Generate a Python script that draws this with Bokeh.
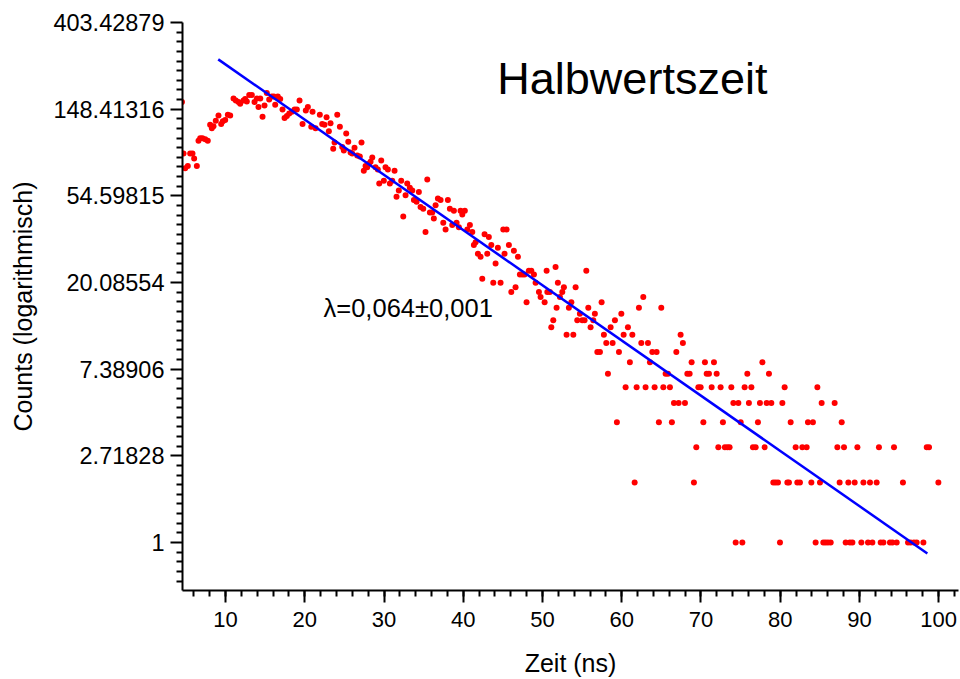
import math
from bokeh.plotting import figure
from bokeh.models import (FixedTicker, SingleIntervalTicker, CustomJSTickFormatter,
                          Label, Range1d)
from bokeh.embed import file_html
from bokeh.resources import INLINE

# ---- data ----
t_ns = [
    4.50, 4.70, 4.91, 5.24, 5.54, 5.83, 6.04, 6.38, 6.59, 6.80, 7.09, 7.43, 7.76, 8.06, 8.27,
    8.48, 8.77, 9.11, 9.45, 9.66, 9.96, 10.29, 10.59, 11.01, 11.30, 11.64, 11.85, 12.27, 12.48,
    12.69, 12.99, 13.32, 13.66, 13.95, 14.16, 14.38, 14.67, 14.92, 15.21, 15.51, 15.84, 16.10,
    16.27, 16.60, 16.90, 17.19, 17.45, 17.74, 18.04, 18.37, 18.71, 19.00, 19.34, 19.72, 20.13,
    20.39, 20.82, 20.98,
    21.36, 21.90, 22.20, 22.49, 22.75, 23.04, 23.25, 23.59, 23.76, 24.10, 24.43, 24.73, 24.93,
    25.23, 25.49, 25.78, 25.99, 26.28, 26.62, 26.95, 27.16, 27.45, 27.67, 27.88, 28.09, 28.30,
    28.52, 28.93, 29.22, 29.40, 29.65, 29.98, 30.19, 30.49, 30.74, 31.04, 31.33, 31.58, 31.87,
    32.17, 32.43, 32.72, 32.93, 33.26, 33.57, 33.77, 34.11, 34.40, 34.61, 34.95, 35.24, 35.46,
    35.79, 36.09, 36.29, 36.51,
    36.80, 37.14, 37.48, 37.77, 38.06, 38.31, 38.61, 38.82, 39.16, 39.45, 39.66, 39.88, 40.20,
    40.51, 40.84, 41.14, 41.34, 41.56, 41.85, 42.19, 42.40, 42.69, 43.03, 43.23, 43.54, 43.79,
    44.08, 44.37, 44.71, 45.05, 45.21, 45.47, 45.76, 46.06, 46.39, 46.60, 46.90, 47.15, 47.45,
    47.74, 47.99, 48.28, 48.59, 48.92, 49.13, 49.55, 49.76, 50.27, 50.52, 50.61, 50.93, 51.11,
    51.36, 51.65, 51.78, 51.94, 52.20,
    52.50, 52.70, 53.04, 53.33, 53.64, 53.89, 54.18, 54.39, 54.72, 55.02, 55.31, 55.53, 55.78,
    56.07, 56.41, 56.61, 56.92, 57.25, 57.46, 57.75, 58.05, 58.26, 58.60, 58.85, 59.14, 59.39,
    59.65, 59.95, 60.24, 60.49, 60.78, 61.03, 61.34, 61.63, 61.88, 62.17, 62.47, 62.72, 63.01,
    63.31, 63.56, 63.86, 64.15, 64.40, 64.69, 64.99, 65.25, 65.54, 65.83, 66.08, 66.33, 66.59,
    66.89, 67.18, 67.43, 67.72, 67.98, 68.28, 68.57, 68.82, 69.11, 69.41, 69.67,
    69.96, 70.30, 70.50, 70.72, 71.01, 71.35, 71.64, 71.98, 72.19, 72.48, 72.77, 73.02, 73.33,
    73.61, 73.83, 74.09, 74.38, 74.72, 75.01, 75.22, 75.51, 75.85, 76.05, 76.36, 76.56, 76.90,
    77.19, 77.44, 77.75, 78.03, 78.29, 78.58, 78.88, 79.13, 79.42, 79.72, 79.97, 80.27, 80.56,
    80.90, 81.10, 81.32, 81.95, 82.16, 82.49, 82.79, 83.34, 83.50, 83.93, 84.13, 84.47, 84.69,
    85.02, 85.23, 85.44, 85.73, 86.03, 86.37, 86.87, 87.21, 87.50, 87.76, 88.05, 88.26, 88.60,
    88.80, 89.11, 89.40, 89.74, 90.24, 90.50, 91.08, 91.33, 91.63, 92.17, 92.46, 92.68, 93.02,
    93.85, 94.16, 94.36, 94.70, 95.49, 96.13, 96.47, 96.88, 97.22, 98.07, 98.49, 98.78, 99.96,
]
counts = [
    161, 89, 75, 77, 89, 89, 84, 77, 103, 106, 106, 105, 103, 124, 119,
    122, 130, 138, 125, 129, 131, 139, 138, 168, 164, 161, 158, 164, 167,
    162, 175, 175, 161, 168, 152, 168, 136, 155, 179, 166, 172, 172,
    156, 172, 167, 148, 134, 137, 141, 144, 148, 148, 164, 125, 146,
    152, 121, 144,
    119, 139, 125, 124, 135, 115, 126, 94, 101, 139, 121, 96, 92,
    112, 102, 90, 89, 95, 87, 86, 101, 73, 77, 76, 79, 81,
    85, 76, 74, 63, 82, 65, 76, 74, 63, 65, 73, 54, 58,
    65, 43, 55, 63, 60, 58, 52, 51, 57, 48, 47, 36, 66,
    45, 45, 42, 49,
    53, 52, 40, 37, 52, 47, 39, 46, 40, 38, 46, 44, 46,
    37, 39, 36, 31, 32, 28, 27, 21, 35, 28, 34, 31, 20,
    25, 30, 20, 37, 28, 37, 31, 18, 29, 19, 27, 22, 22,
    22, 16, 23, 23, 22, 20, 18, 17, 16, 23, 18, 18, 12,
    13, 24, 15, 20, 17,
    18, 19, 11, 15, 16, 11, 19, 13, 14, 13, 13, 23, 15,
    12, 13, 14, 9, 9, 16, 11, 10, 7, 12, 10, 13, 4,
    9, 14, 11, 6, 12, 8, 11, 2, 6, 15, 10, 17, 6,
    10, 8, 9, 6, 9, 4, 15, 6, 7, 7, 6, 4, 5,
    9, 5, 11, 10, 5, 7, 7, 8, 2, 3, 6,
    6, 4, 8, 7, 7, 6, 8, 7, 3, 6, 4, 3, 3,
    3, 6, 5, 1, 5, 4, 1, 6, 7, 5, 6, 3, 3,
    4, 5, 8, 3, 5, 7, 5, 2, 2, 2, 1, 5, 6,
    2, 2, 4, 3, 2, 2, 3, 3, 4, 2, 4, 1, 6,
    2, 5, 1, 1, 1, 1, 5, 3, 2, 4, 3, 1, 2,
    1, 1, 2, 3, 1, 2, 1, 2, 1, 2, 3, 1, 1,
    1, 1, 3, 1, 2, 1, 1, 1, 1, 1, 3, 3, 2,
]

# exponential fit N(t) = A * exp(-lambda * t)
fit_A = 470.0
fit_lambda = 0.0637
fit_t = [9.08, 98.57]
fit_counts = [fit_A * math.exp(-fit_lambda * t) for t in fit_t]

y_tick_labels = ["1", "2.71828", "7.38906", "20.08554", "54.59815", "148.41316", "403.42879"]
y_major = [math.exp(k) for k in range(len(y_tick_labels))]
y_minor = [math.exp(k + i / 9.0) for k in range(-1, 6) for i in range(1, 9)]

title_text = "Halbwertszeit"
fit_text = "λ=0,064±0,001"

FONT = "Liberation Sans"

p = figure(width=960, height=679, y_axis_type="log",
           x_range=Range1d(4.57, 102.5),
           y_range=Range1d(math.exp(-0.554), math.exp(6.0)),
           output_backend="svg", toolbar_location=None,
           min_border_left=182, min_border_right=2, min_border_top=22, min_border_bottom=89,
           background_fill_color="white", border_fill_color="white")
p.outline_line_color = None
p.xgrid.visible = False
p.ygrid.visible = False

p.scatter(t_ns, counts, size=6, fill_color="#ff0000", line_color=None)
p.line(fit_t, fit_counts, line_color="#0000ff", line_width=2.5)

p.xaxis.ticker = SingleIntervalTicker(interval=10, num_minor_ticks=5)
p.yaxis.ticker = FixedTicker(ticks=y_major, minor_ticks=y_minor)
p.yaxis.formatter = CustomJSTickFormatter(args=dict(labels=y_tick_labels),
                                          code="return labels[Math.round(Math.log(tick))];")

p.xaxis.axis_label = "Zeit (ns)"
p.yaxis.axis_label = "Counts (logarithmisch)"

for ax in (p.xaxis[0], p.yaxis[0]):
    ax.axis_line_width = 2
    ax.axis_line_color = "black"
    ax.major_tick_line_width = 2
    ax.minor_tick_line_width = 2
    ax.major_tick_line_color = "black"
    ax.minor_tick_line_color = "black"
    ax.major_tick_in = 0
    ax.major_tick_out = 12
    ax.minor_tick_in = 0
    ax.minor_tick_out = 6
    ax.major_label_text_font = FONT
    ax.major_label_text_color = "black"
    ax.axis_label_text_font = FONT
    ax.axis_label_text_font_size = "25px"
    ax.axis_label_text_font_style = "normal"
    ax.axis_label_text_color = "black"

p.xaxis.major_label_text_font_size = "22px"
p.yaxis.major_label_text_font_size = "23.5px"
p.xaxis.major_label_standoff = 9
p.yaxis.major_label_standoff = 6
p.xaxis.axis_label_standoff = 19
p.yaxis.axis_label_standoff = 13

p.add_layout(Label(x=44.3, y=211.0, text=title_text, text_font=FONT,
                   text_font_size="45px", text_color="black", text_baseline="middle"))
p.add_layout(Label(x=22.37, y=15.0, text=fit_text, text_font=FONT,
                   text_font_size="25.5px", text_color="black", text_baseline="middle"))

with open("out.html", "w", encoding="utf-8") as f:
    f.write(file_html(p, INLINE, title="Halbwertszeit"))
